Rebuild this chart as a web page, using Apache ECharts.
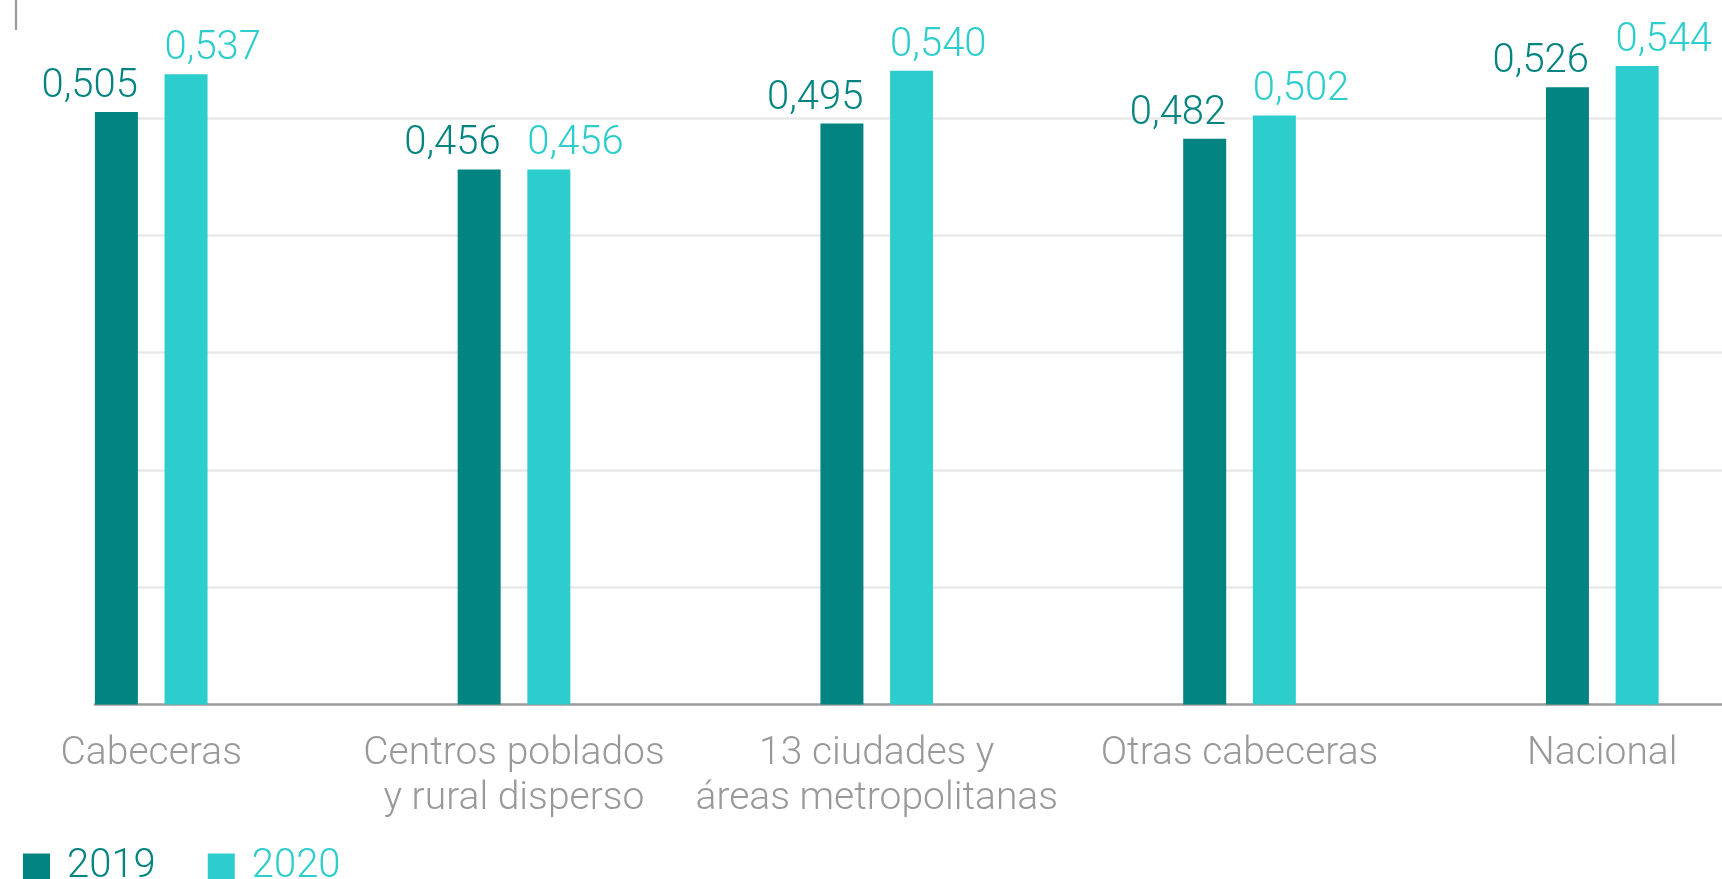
<!DOCTYPE html>
<html>
<head>
<meta charset="utf-8">
<script src="https://cdn.jsdelivr.net/npm/echarts@6/dist/echarts.min.js"></script>
<style>
html,body{margin:0;padding:0;background:#fff;}
#chart{width:1722px;height:879px;}
</style>
</head>
<body>
<div id="chart"></div>
<script>
const categories = ['Cabeceras', 'Centros poblados\ny rural disperso', '13 ciudades y\náreas metropolitanas', 'Otras cabeceras', 'Nacional'];
const seriesNames = ['2019', '2020'];
const values2019 = [0.505, 0.456, 0.495, 0.482, 0.526];
const values2020 = [0.537, 0.456, 0.540, 0.502, 0.544];
const colors = ['#038480', '#2ECDCD'];
const FONT = 'Roboto';
const WEIGHT = 300;

const fmt = p => p.value[1].toFixed(3).replace('.', ',');

const chart = echarts.init(document.getElementById('chart'), null, {renderer: 'canvas'});
chart.setOption({
  animation: false,
  grid: {left: 95, right: 0, top: 0.4, bottom: 174.5, containLabel: false},
  xAxis: {
    type: 'value',
    min: -0.155,
    max: 4.33,
    splitLine: {show: false},
    axisTick: {show: false},
    axisLine: {show: true, onZero: false, lineStyle: {color: '#9b9b9b', width: 2.7}},
    axisLabel: {
      customValues: [0, 1, 2, 3, 4],
      formatter: v => categories[Math.round(v)],
      color: '#999999',
      fontFamily: FONT,
      fontWeight: WEIGHT,
      fontSize: 39,
      lineHeight: 45,
      margin: 27,
      align: 'center',
      verticalAlign: 'top'
    }
  },
  yAxis: {
    type: 'value',
    min: 0,
    max: 0.6,
    interval: 0.1,
    axisLabel: {show: false},
    axisLine: {show: false},
    axisTick: {show: false},
    splitLine: {show: true, showMaxLine: false, showMinLine: false, lineStyle: {color: '#e8e8e8', width: 2.5}}
  },
  legend: {
    left: 18,
    top: 842,
    icon: 'rect',
    itemWidth: 27,
    itemHeight: 27,
    itemGap: 52,
    textStyle: {fontFamily: FONT, fontWeight: WEIGHT, fontSize: 40, padding: [0, 0, 0, 12]},
    data: [
      {name: seriesNames[0], textStyle: {color: colors[0]}},
      {name: seriesNames[1], textStyle: {color: colors[1]}}
    ]
  },
  graphic: [{
    type: 'line',
    shape: {x1: 16, y1: 0, x2: 16, y2: 30},
    style: {stroke: '#9b9b9b', lineWidth: 2.3}
  }],
  series: [
    {
      name: seriesNames[0],
      type: 'bar',
      barWidth: 43,
      barGap: '62%',
      itemStyle: {color: colors[0]},
      data: values2019.map((v, i) => [i, v]),
      label: {
        show: true,
        position: ['100%', 0],
        align: 'right',
        verticalAlign: 'bottom',
        offset: [0, -5],
        formatter: fmt,
        color: colors[0],
        fontFamily: FONT,
        fontWeight: WEIGHT,
        fontSize: 40
      }
    },
    {
      name: seriesNames[1],
      type: 'bar',
      barWidth: 43,
      barGap: '62%',
      itemStyle: {color: colors[1]},
      data: values2020.map((v, i) => [i, v]),
      label: {
        show: true,
        position: [0, 0],
        align: 'left',
        verticalAlign: 'bottom',
        offset: [0, -5],
        formatter: fmt,
        color: colors[1],
        fontFamily: FONT,
        fontWeight: WEIGHT,
        fontSize: 40
      }
    }
  ]
});
</script>
</body>
</html>
